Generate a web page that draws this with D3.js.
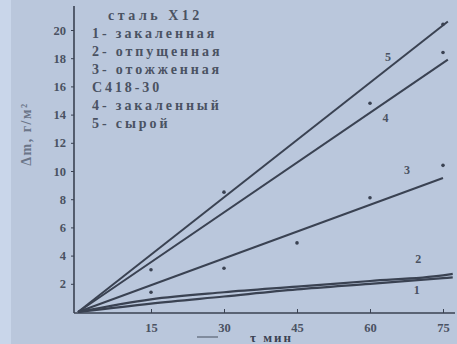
<!DOCTYPE html>
<html>
<head>
<meta charset="utf-8">
<script src="https://cdn.jsdelivr.net/npm/d3@7"></script>
<style>
	body { margin: 0; background: #bac7dc; }
	svg { display: block; }
</style>
</head>
<body>
<div id="canvas"></div>
<script>

// time, min
var xTicks = [15, 30, 45, 60, 75]
var yTicks = [2, 4, 6, 8, 10, 12, 14, 16, 18, 20]

// fitted lines (time, mass gain)
var line1 = [[0, 0], [15, 0.6], [30, 1.1], [45, 1.6], [60, 2.0], [75, 2.4], [77, 2.45]]
var line2 = [[0, 0], [15, 0.9], [30, 1.4], [45, 1.8], [60, 2.2], [75, 2.6], [77, 2.7]]
var line3 = [[0, 0], [75, 9.5]]
var line4 = [[0, 0], [76, 17.9]]
var line5 = [[0, 0], [76, 20.6]]

// measured points
var points3 = [[15, 1.4], [30, 3.1], [45, 4.9], [60, 8.1], [75, 10.4]]
var points4 = [[15, 3.0], [60, 14.8], [75, 18.4]]
var points5 = [[30, 8.5], [75, 20.4]]

// curve number labels: [label, t, value]
var curveLabels = [["5", 63.7, 17.8], ["4", 63.2, 13.5], ["3", 67.6, 9.8], ["2", 69.9, 3.5], ["1", 69.6, 1.3]]

var legendLines = ["1- закаленная", "2- отпущенная", "3- отожженная", "С418-30", "4- закаленный", "5- сырой"]

var width = 457, height = 344
var ink = "#3a4252"
var serif = "'Liberation Serif', 'DejaVu Serif', serif"

var svg = d3.select('#canvas').append("svg")
	.attr("width", width)
	.attr("height", height)

// photo edge
svg.append("rect").attr("x", 0).attr("y", 0).attr("width", width).attr("height", height).attr("fill", "#bac7dc")
svg.append("rect").attr("x", 0).attr("y", 0).attr("width", 11).attr("height", height).attr("fill", "#c9d6ea")

var x = d3.scaleLinear().domain([0, 75]).range([78, 443])
var y = d3.scaleLinear().domain([0, 20]).range([312, 30])

// axes
svg.append("line")
	.attr("x1", 74).attr("x2", 455)
	.attr("y1", y(0) + 1).attr("y2", y(0) + 1)
	.attr("stroke", ink).attr("stroke-width", 1.6)
svg.append("line")
	.attr("x1", 74).attr("x2", 74)
	.attr("y1", y(0) + 1).attr("y2", 6)
	.attr("stroke", ink).attr("stroke-width", 1.6)

var xAxis = d3.axisBottom(x).tickValues(xTicks).tickSize(-4).tickPadding(10)
var gx = svg.append("g").attr("transform", "translate(0," + (y(0) + 1) + ")").call(xAxis)
gx.select(".domain").remove()

var yAxis = d3.axisLeft(y).tickValues(yTicks).tickSize(3).tickPadding(5)
var gy = svg.append("g").attr("transform", "translate(74,0)").call(yAxis)
gy.select(".domain").remove()

svg.selectAll(".tick line").attr("stroke", ink).attr("stroke-width", 1)
svg.selectAll(".tick text")
	.attr("fill", "#4a5262")
	.style("font-family", serif)
	.style("font-size", "12.5px")
	.style("font-weight", "bold")

// axis titles
svg.append("text")
	.attr("transform", "translate(31,134) rotate(-90)")
	.attr("text-anchor", "middle")
	.attr("fill", "#6b7588")
	.style("font-family", serif)
	.style("font-size", "14px")
	.style("font-weight", "bold")
	.style("letter-spacing", "1.5px")
	.text("Δm, г/м²")

svg.append("line")
	.attr("x1", 197).attr("x2", 218).attr("y1", 337).attr("y2", 337)
	.attr("stroke", "#5a6374").attr("stroke-width", 1.2)
svg.append("text")
	.attr("x", 250).attr("y", 342)
	.attr("fill", ink)
	.style("font-family", serif)
	.style("font-size", "13px")
	.style("font-weight", "bold")
	.style("letter-spacing", "2px")
	.text("τ мин")

// legend text
svg.append("text")
	.attr("x", 108).attr("y", 20)
	.attr("fill", "#4a5262")
	.style("font-family", serif)
	.style("font-size", "14px")
	.style("font-weight", "bold")
	.style("letter-spacing", "3.5px")
	.text("сталь Х12")

svg.selectAll(".legend")
	.data(legendLines)
	.enter().append("text")
		.attr("class", "legend")
		.attr("x", 92)
		.attr("y", function (d, i) { return 38 + i * 18 })
		.attr("fill", "#4a5262")
		.style("font-family", serif)
		.style("font-size", "14px")
		.style("font-weight", "bold")
		.style("letter-spacing", "2.9px")
		.text(function (d) { return d })

// curves
var straight = d3.line().x(function (d) { return x(d[0]) }).y(function (d) { return y(d[1]) })
var smooth = d3.line().x(function (d) { return x(d[0]) }).y(function (d) { return y(d[1]) }).curve(d3.curveMonotoneX)

svg.selectAll(".curve")
	.data([line3, line4, line5])
	.enter().append("path")
		.attr("class", "curve")
		.attr("d", straight)
		.attr("fill", "none")
		.attr("stroke", ink)
		.attr("stroke-width", 2)

svg.selectAll(".low")
	.data([line1, line2])
	.enter().append("path")
		.attr("class", "low")
		.attr("d", smooth)
		.attr("fill", "none")
		.attr("stroke", ink)
		.attr("stroke-width", 2.2)

// measured points
var allPoints = points3.concat(points4).concat(points5)
svg.selectAll(".pt")
	.data(allPoints)
	.enter().append("circle")
		.attr("class", "pt")
		.attr("cx", function (d) { return x(d[0]) })
		.attr("cy", function (d) { return y(d[1]) })
		.attr("r", 1.8)
		.attr("fill", ink)

// curve labels
svg.selectAll(".clabel")
	.data(curveLabels)
	.enter().append("text")
		.attr("class", "clabel")
		.attr("x", function (d) { return x(d[1]) })
		.attr("y", function (d) { return y(d[2]) })
		.attr("text-anchor", "middle")
		.attr("fill", "#4a5262")
		.style("font-family", serif)
		.style("font-size", "12px")
		.style("font-weight", "bold")
		.text(function (d) { return d[0] })

</script>
</body>
</html>
